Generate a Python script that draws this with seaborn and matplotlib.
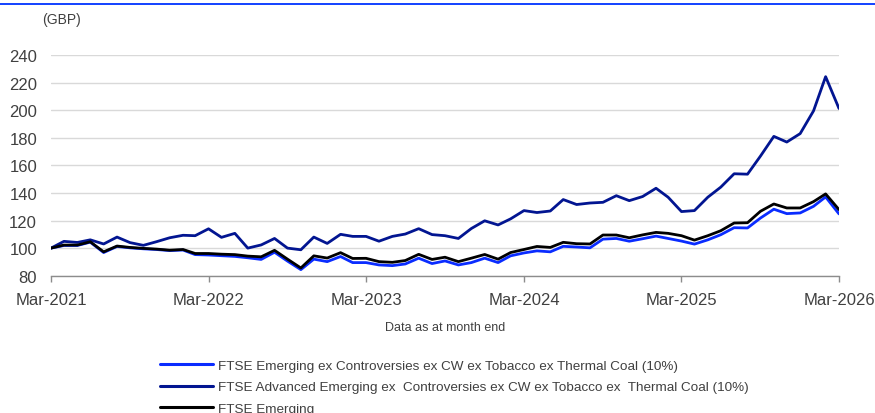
import matplotlib
matplotlib.use("Agg")
import matplotlib.pyplot as plt
import matplotlib.dates as mdates
import matplotlib.lines as mlines
import numpy as np
import pandas as pd
import seaborn as sns

# Month-end index levels (GBP, rebased to 100 at Mar-2021)
dates = pd.date_range("2021-03-31", "2026-03-31", freq="ME")

emerging_ex_cw = [
    100, 101.9, 101.9, 104.3, 96.8, 101.2, 100.2, 99.5, 99, 98.2,
    98.6, 95.3, 95, 94.5, 94, 93, 91.8, 97, 90.6, 84.4,
    92, 90.2, 93.9, 89.5, 89.5, 87.8, 87.3, 88.5, 92.7, 88.8,
    90.7, 87.8, 89.5, 92.7, 89.5, 94.4, 96.5, 98, 97.3, 101.3,
    100.8, 100.2, 106.5, 107, 105, 106.8, 108.7, 107, 105.1, 102.9,
    106, 109.7, 114.8, 114.6, 121.8, 128.2, 125, 125.5, 130.3, 137.1,
    124.8,
]
adv_emerging_ex_cw = [
    100, 104.9, 104.1, 106, 103, 108, 104, 102, 104.6, 107.5,
    109.3, 109, 114, 107.8, 110.7, 100, 102.3, 107, 100, 98.8,
    108, 103.4, 110, 108.5, 108.5, 105, 108.5, 110.2, 114.1, 109.8,
    109, 107, 114.2, 119.8, 116.8, 121.2, 127.2, 125.8, 126.9, 135.2,
    131.6, 132.7, 133.2, 138, 134.4, 137.4, 143.4, 136.9, 126.5, 127.2,
    136.9, 144.2, 153.9, 153.6, 166.7, 181, 176.9, 183, 199.5, 224.3,
    201.2,
]
emerging = [
    100, 102.2, 102.2, 104.6, 97.3, 101.5, 100.5, 99.8, 99.3, 98.5,
    99, 96.1, 96.1, 95.6, 95.3, 94.2, 93.7, 98.4, 92, 85.6,
    94.4, 92.8, 96.7, 92.5, 92.6, 90.2, 89.7, 91, 95.5, 91.8,
    93.4, 90.2, 92.7, 95.4, 92, 96.8, 99, 101.2, 100.5, 104.2,
    103.2, 103, 109.5, 109.5, 107.5, 109.6, 111.4, 110.7, 109, 105.8,
    109, 112.6, 118.2, 118.4, 126.7, 132, 129.1, 129.1, 133.7, 139.3,
    127.9,
]

series_names = [
    "FTSE Emerging ex Controversies ex CW ex Tobacco ex Thermal Coal (10%)",
    "FTSE Advanced Emerging ex  Controversies ex CW ex Tobacco ex  Thermal Coal (10%)",
    "FTSE Emerging",
]
series_colors = ["#0a2cff", "#021591", "#000000"]
y_ticks = [80, 100, 120, 140, 160, 180, 200, 220, 240]

df = pd.DataFrame({
    "date": np.tile(dates, 3),
    "value": emerging_ex_cw + adv_emerging_ex_cw + emerging,
    "series": np.repeat(series_names, len(dates)),
})

sns.set_theme(style="white")
plt.rcParams["font.family"] = ["Liberation Sans", "DejaVu Sans"]

fig = plt.figure(figsize=(8.75, 4.14), dpi=100)
ax = fig.add_axes([51 / 875, 1 - 276.7 / 414, 788 / 875, 220.7 / 414])

sns.lineplot(data=df, x="date", y="value", hue="series", hue_order=series_names,
             palette=series_colors, linewidth=2.0, ax=ax, legend=False)

text_col = "#404040"
ax.set_ylim(80, 240)
ax.set_yticks(y_ticks)
ax.set_xlim(dates[0], dates[-1])
year_ticks = [d for d in dates if d.month == 3]
ax.set_xticks(year_ticks)
ax.xaxis.set_major_formatter(mdates.DateFormatter("%b-%Y"))

ax.grid(axis="y", color="#d9d9d9", linewidth=1.0)
ax.grid(axis="x", visible=False)
ax.set_axisbelow(True)
for side in ["left", "right", "top"]:
    ax.spines[side].set_visible(False)
ax.spines["bottom"].set_color("#8c8c8c")
ax.spines["bottom"].set_linewidth(1.0)

ax.tick_params(axis="y", length=0, pad=10, labelsize=12, labelcolor=text_col)
ax.tick_params(axis="x", direction="out", length=4, width=1, color="#8c8c8c",
               pad=8, labelsize=12, labelcolor=text_col, bottom=True)

ax.set_ylabel("")
ax.set_xlabel("Data as at month end", fontsize=9, color=text_col, labelpad=10)

fig.text(42 / 875, 1 - 20 / 414, "(GBP)", fontsize=10, color=text_col,
         ha="left", va="center")

# thin rule across the top of the figure
fig.add_artist(mlines.Line2D([0, 1], [1 - 4.5 / 414, 1 - 4.5 / 414],
                             transform=fig.transFigure, color="#0033ff", linewidth=1.3))

handles = [mlines.Line2D([], [], color=c, linewidth=2.2) for c in series_colors]
fig.legend(handles, series_names, loc="upper left",
           bbox_to_anchor=(155 / 875, 1 - 355 / 414), frameon=False,
           fontsize=9.7, handlelength=3.9, handletextpad=0.35, labelspacing=0.68,
           labelcolor=text_col, borderaxespad=0)

fig.savefig("out.png", dpi=100)
